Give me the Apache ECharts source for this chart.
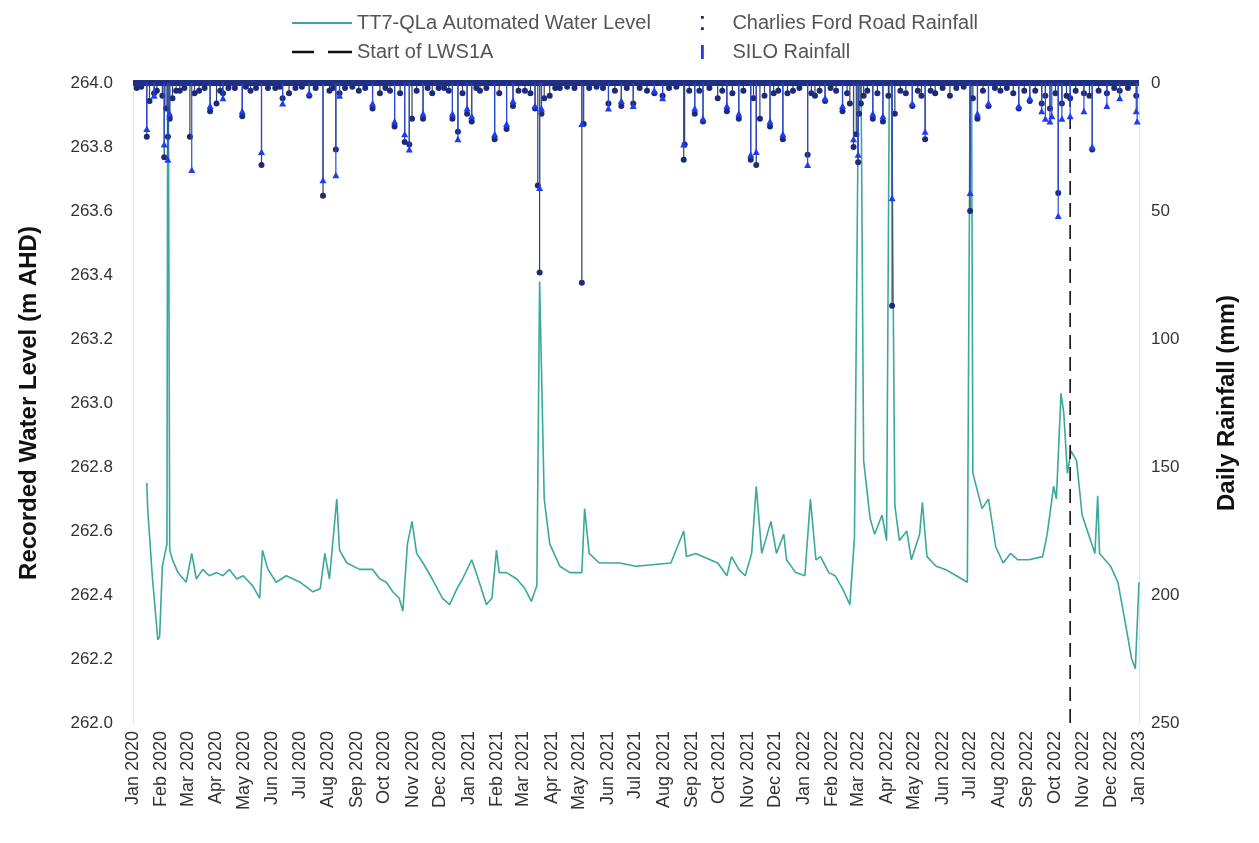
<!DOCTYPE html>
<html>
<head>
<meta charset="utf-8">
<script src="https://cdn.jsdelivr.net/npm/echarts@6/dist/echarts.min.js"></script>
<style>
html,body{margin:0;padding:0;background:#fff;}
#chart{width:1259px;height:843px;}
</style>
</head>
<body>
<div id="chart"></div>
<script>
// ---------- DATA ----------
const levelDates = [
 '2020-01-16','2020-01-17','2020-01-22','2020-01-28','2020-01-30','2020-02-02','2020-02-07','2020-02-08','2020-02-10','2020-02-13',
 '2020-02-19','2020-02-28','2020-03-05','2020-03-10','2020-03-17','2020-03-24','2020-04-01','2020-04-08','2020-04-15','2020-04-23',
 '2020-04-30','2020-05-10','2020-05-18','2020-05-21','2020-05-27','2020-06-05','2020-06-16','2020-07-01','2020-07-15','2020-07-23',
 '2020-07-28','2020-08-02','2020-08-10','2020-08-13','2020-08-21','2020-09-04','2020-09-18','2020-09-26','2020-10-03','2020-10-10',
 '2020-10-17','2020-10-21','2020-10-26','2020-10-31','2020-11-05','2020-11-12','2020-11-22','2020-12-03','2020-12-11','2020-12-19',
 '2020-12-25','2021-01-04','2021-01-10','2021-01-20','2021-01-26','2021-01-31','2021-02-03','2021-02-11','2021-02-22','2021-03-03',
 '2021-03-10','2021-03-16','2021-03-19','2021-03-24','2021-03-30','2021-04-10','2021-04-21','2021-05-04','2021-05-07','2021-05-12',
 '2021-05-23','2021-06-14','2021-07-02','2021-08-09','2021-08-23','2021-08-26','2021-09-05','2021-09-29','2021-10-09','2021-10-14',
 '2021-10-22','2021-10-29','2021-11-05','2021-11-10','2021-11-16','2021-11-26','2021-12-02','2021-12-10','2021-12-13','2021-12-23',
 '2022-01-02','2022-01-08','2022-01-14','2022-01-19','2022-01-28','2022-02-04','2022-02-12','2022-02-20','2022-02-25','2022-03-03',
 '2022-03-07','2022-03-14','2022-03-19','2022-03-27','2022-04-01','2022-04-05','2022-04-10','2022-04-15','2022-04-23','2022-04-28',
 '2022-05-07','2022-05-10','2022-05-15','2022-05-25','2022-06-04','2022-06-16','2022-06-28','2022-07-02','2022-07-04','2022-07-14',
 '2022-07-21','2022-07-29','2022-08-06','2022-08-14','2022-08-22','2022-09-03','2022-09-18','2022-09-23','2022-09-30','2022-10-03',
 '2022-10-08','2022-10-11','2022-10-15','2022-10-19','2022-10-25','2022-10-31','2022-11-07','2022-11-14','2022-11-17','2022-11-19',
 '2022-12-01','2022-12-09','2022-12-16','2022-12-24','2022-12-28','2023-01-01'
];
const levelValues = [
 262.75,262.67,262.46,262.26,262.27,262.49,262.56,264.5,262.54,262.51,
 262.47,262.44,262.53,262.45,262.48,262.46,262.47,262.46,262.48,262.45,
 262.46,262.43,262.39,262.54,262.48,262.44,262.46,262.44,262.41,262.42,
 262.53,262.45,262.70,262.54,262.50,262.48,262.48,262.45,262.44,262.41,
 262.39,262.35,262.56,262.63,262.53,262.50,262.45,262.39,262.37,262.42,
 262.45,262.51,262.46,262.37,262.39,262.54,262.47,262.47,262.45,262.42,
 262.38,262.43,263.38,262.70,262.56,262.49,262.47,262.47,262.67,262.53,
 262.50,262.50,262.49,262.50,262.60,262.52,262.53,262.50,262.46,262.52,
 262.48,262.46,262.53,262.74,262.53,262.63,262.53,262.59,262.51,262.47,
 262.46,262.70,262.51,262.52,262.47,262.46,262.42,262.37,262.58,264.5,
 262.82,262.64,262.59,262.65,262.57,264.5,262.68,262.57,262.60,262.51,
 262.59,262.69,262.52,262.49,262.48,262.46,262.44,264.5,262.78,262.67,
 262.70,262.55,262.50,262.53,262.51,262.51,262.52,262.59,262.74,262.70,
 263.03,262.97,262.78,262.85,262.82,262.65,262.59,262.53,262.71,262.53,
 262.49,262.44,262.33,262.20,262.17,262.44
];

// Charlies Ford Road daily rainfall [date, mm]
const charliesRain = [
 ['2020-01-05',2],['2020-01-10',1.5],['2020-01-16',21],['2020-01-19',7],['2020-01-24',4],['2020-01-27',3],
 ['2020-02-02',5],['2020-02-04',29],['2020-02-06',10],['2020-02-08',21],['2020-02-10',14],['2020-02-13',6],
 ['2020-02-17',3],['2020-02-21',3],['2020-02-26',2],['2020-03-03',21],['2020-03-08',4],['2020-03-13',3],
 ['2020-03-19',2],['2020-03-25',11],['2020-04-01',8],['2020-04-05',3],['2020-04-08',4],['2020-04-14',2],
 ['2020-04-21',2],['2020-04-29',13],['2020-05-03',1.5],['2020-05-08',3],['2020-05-14',2],['2020-05-20',32],
 ['2020-05-27',2],['2020-06-04',2],['2020-06-09',1.5],['2020-06-12',6],['2020-06-19',4],['2020-06-26',2],
 ['2020-07-03',1.5],['2020-07-11',5],['2020-07-18',2],['2020-07-26',44],['2020-08-02',3],['2020-08-06',2],
 ['2020-08-09',26],['2020-08-13',4],['2020-08-19',2],['2020-08-27',1.5],['2020-09-03',3],['2020-09-10',2],
 ['2020-09-18',10],['2020-09-26',4],['2020-10-02',2],['2020-10-07',3],['2020-10-12',17],['2020-10-18',4],
 ['2020-10-23',23],['2020-10-28',24],['2020-10-31',14],['2020-11-05',3],['2020-11-12',14],['2020-11-17',2],
 ['2020-11-22',4],['2020-11-29',2],['2020-12-05',2],['2020-12-10',3],['2020-12-14',14],['2020-12-20',19],
 ['2020-12-25',4],['2020-12-30',12],
 ['2021-01-04',15],['2021-01-09',2],['2021-01-13',3],['2021-01-20',2],['2021-01-29',22],['2021-02-03',4],
 ['2021-02-11',18],['2021-02-18',9],['2021-02-24',3],['2021-03-03',3],['2021-03-09',4],['2021-03-14',10],
 ['2021-03-17',40],['2021-03-19',74],['2021-03-21',12],['2021-03-24',6],['2021-03-30',5],['2021-04-05',2],
 ['2021-04-10',2],['2021-04-18',1.5],['2021-04-26',2],['2021-05-04',78],['2021-05-06',16],['2021-05-12',2],
 ['2021-05-20',1.5],['2021-05-27',2],['2021-06-02',8],['2021-06-09',3],['2021-06-16',9],['2021-06-22',2],
 ['2021-06-29',8],['2021-07-06',2],['2021-07-14',3],['2021-07-22',4],['2021-07-31',5],['2021-08-07',2],
 ['2021-08-15',1.5],['2021-08-23',30],['2021-08-24',24],['2021-08-29',3],['2021-09-04',12],['2021-09-09',3],
 ['2021-09-13',15],['2021-09-20',2],['2021-09-29',6],['2021-10-04',3],['2021-10-09',11],['2021-10-15',4],
 ['2021-10-22',14],['2021-10-27',3],['2021-11-04',30],['2021-11-07',6],['2021-11-10',32],['2021-11-14',14],
 ['2021-11-19',5],['2021-11-25',17],['2021-11-29',4],['2021-12-04',3],['2021-12-09',22],['2021-12-14',4],
 ['2021-12-20',3],['2021-12-27',2],
 ['2022-01-05',28],['2022-01-09',4],['2022-01-13',5],['2022-01-18',3],['2022-01-24',7],['2022-01-30',2],
 ['2022-02-05',3],['2022-02-12',11],['2022-02-17',4],['2022-02-20',8],['2022-02-24',25],['2022-02-27',20],
 ['2022-03-01',31],['2022-03-02',12],['2022-03-04',8],['2022-03-07',5],['2022-03-11',3],['2022-03-17',14],
 ['2022-03-22',4],['2022-03-28',15],['2022-04-03',5],['2022-04-07',87],['2022-04-10',12],['2022-04-16',3],
 ['2022-04-22',4],['2022-04-29',9],['2022-05-05',3],['2022-05-09',5],['2022-05-13',22],['2022-05-19',3],
 ['2022-05-24',4],['2022-06-01',2],['2022-06-09',5],['2022-06-16',2],['2022-06-24',1.5],['2022-07-01',50],
 ['2022-07-04',6],['2022-07-09',14],['2022-07-15',3],['2022-07-21',9],['2022-07-28',2],['2022-08-03',3],
 ['2022-08-10',2],['2022-08-17',4],['2022-08-23',10],['2022-08-29',3],['2022-09-04',7],['2022-09-10',3],
 ['2022-09-17',8],['2022-09-21',5],['2022-09-26',10],['2022-10-02',4],['2022-10-05',43],['2022-10-09',8],
 ['2022-10-14',5],['2022-10-18',6],['2022-10-24',3],['2022-11-02',4],['2022-11-08',5],['2022-11-11',26],
 ['2022-11-18',3],['2022-11-27',4],['2022-12-05',2],['2022-12-11',3],['2022-12-20',2],['2022-12-29',5]
];

// SILO daily rainfall [date, mm]
const siloRain = [
 ['2020-01-16',18],['2020-01-24',5],['2020-02-04',24],['2020-02-08',30],['2020-02-10',12],['2020-03-05',34],
 ['2020-03-25',9],['2020-04-08',6],['2020-04-29',11],['2020-05-20',27],['2020-06-12',8],['2020-07-11',4],
 ['2020-07-26',38],['2020-08-09',36],['2020-08-13',5],['2020-09-18',8],['2020-10-12',15],['2020-10-23',20],
 ['2020-10-28',26],['2020-11-12',12],['2020-12-14',12],['2020-12-20',22],['2020-12-30',10],
 ['2021-01-04',13],['2021-01-29',20],['2021-02-11',16],['2021-02-18',7],['2021-03-14',9],['2021-03-19',41],
 ['2021-03-21',10],['2021-05-04',16],['2021-06-02',10],['2021-06-16',7],['2021-06-29',9],['2021-07-22',3],
 ['2021-07-31',6],['2021-08-23',24],['2021-09-04',10],['2021-09-13',14],['2021-10-09',9],['2021-10-22',12],
 ['2021-11-04',28],['2021-11-10',27],['2021-11-25',15],['2021-12-09',20],
 ['2022-01-05',32],['2022-01-24',6],['2022-02-12',9],['2022-02-24',22],['2022-03-01',28],['2022-03-17',12],
 ['2022-03-28',13],['2022-04-07',45],['2022-04-29',8],['2022-05-13',19],['2022-07-01',43],['2022-07-09',12],
 ['2022-07-21',8],['2022-08-23',9],['2022-09-04',6],['2022-09-17',11],['2022-09-21',14],['2022-09-26',15],
 ['2022-09-28',13],['2022-10-05',52],['2022-10-09',14],['2022-10-18',13],['2022-11-02',11],['2022-11-11',25],
 ['2022-11-27',9],['2022-12-11',6],['2022-12-29',11],['2022-12-30',15]
];

const lwsStartDate = '2022-10-18';
const levelTicks = {min: 262, max: 264, step: 0.2};
const rainTicks = {min: 0, max: 250, step: 50};
const monthNames = ['Jan','Feb','Mar','Apr','May','Jun','Jul','Aug','Sep','Oct','Nov','Dec'];

// ---------- CHART ----------
const chart = echarts.init(document.getElementById('chart'), null, {renderer: 'canvas'});
const FONT = 'Liberation Sans, Arial, sans-serif';

function stemRenderer(stemColor, markerColor, shape) {
  return function (params, api) {
    const x = api.value(0);
    const v = api.value(1);
    const p0 = api.coord([x, 0]);
    const p1 = api.coord([x, v]);
    const children = [{
      type: 'line',
      shape: {x1: p0[0], y1: p0[1], x2: p1[0], y2: p1[1]},
      style: {stroke: stemColor, lineWidth: 1.2}
    }];
    if (shape === 'circle') {
      children.push({type: 'circle', shape: {cx: p1[0], cy: p1[1], r: 3}, style: {fill: markerColor}});
    } else {
      children.push({type: 'polygon', shape: {points: [[p1[0], p1[1] - 3.5], [p1[0] - 3.5, p1[1] + 3], [p1[0] + 3.5, p1[1] + 3]]}, style: {fill: markerColor}});
    }
    return {type: 'group', children: children};
  };
}

const option = {
  backgroundColor: '#ffffff',
  animation: false,
  legend: [
    {
      left: 287, top: 8, orient: 'vertical', itemGap: 9, itemWidth: 60, itemHeight: 14,
      data: [
        {name: 'TT7-QLa Automated Water Level', icon: 'path://M0,0h60v2h-60z', symbolKeepAspect: true},
        {name: 'Start of LWS1A', icon: 'path://M0,0h22v2.5h-22z M36,0h24v2.5h-24z', symbolKeepAspect: true}
      ],
      textStyle: {fontSize: 20, color: '#555', fontFamily: FONT}
    },
    {
      left: 696, top: 8, orient: 'vertical', itemGap: 9, itemWidth: 6, itemHeight: 14,
      data: [
        {name: 'Charlies Ford Road Rainfall', icon: 'path://M0,0h2v2h-2z M0,8h2v2h-2z'},
        {name: 'SILO Rainfall', icon: 'path://M0,0h2v10h-2z'}
      ],
      textStyle: {fontSize: 20, color: '#555', fontFamily: FONT, padding: [0, 0, 0, 22]}
    }
  ],
  grid: {left: 133, right: 120, top: 83, bottom: 120, containLabel: false},
  xAxis: {
    type: 'time',
    min: '2020-01-01',
    max: '2023-01-01',
    minInterval: 28 * 86400000,
    maxInterval: 31 * 86400000,
    splitNumber: 36,
    axisLine: {show: true, lineStyle: {color: '#e2e2e2'}},
    axisTick: {show: false},
    splitLine: {show: false},
    axisLabel: {
      rotate: 90, fontSize: 18, color: '#333', fontFamily: FONT, margin: 8, hideOverlap: false,
      showMinLabel: true, showMaxLabel: true,
      formatter: function (val) {
        const d = new Date(val);
        return monthNames[d.getMonth()] + ' ' + d.getFullYear();
      }
    }
  },
  yAxis: [
    {
      type: 'value', min: levelTicks.min, max: levelTicks.max, interval: levelTicks.step,
      name: 'Recorded Water Level (m AHD)', nameLocation: 'middle', nameGap: 92,
      nameTextStyle: {fontSize: 24, fontWeight: 'bold', color: '#111', fontFamily: FONT},
      axisLine: {show: true, lineStyle: {color: '#e2e2e2'}},
      axisTick: {show: false}, splitLine: {show: false},
      axisLabel: {fontSize: 17, color: '#333', fontFamily: FONT, margin: 20, formatter: v => v.toFixed(1)}
    },
    {
      type: 'value', min: rainTicks.min, max: rainTicks.max, interval: rainTicks.step, inverse: true,
      name: 'Daily Rainfall (mm)', nameLocation: 'middle', nameGap: 76,
      nameTextStyle: {fontSize: 24, fontWeight: 'bold', color: '#111', fontFamily: FONT},
      axisLine: {show: true, lineStyle: {color: '#e2e2e2'}},
      axisTick: {show: false}, splitLine: {show: false},
      axisLabel: {fontSize: 17, color: '#333', fontFamily: FONT, margin: 12}
    }
  ],
  series: [
    {
      name: 'TT7-QLa Automated Water Level', type: 'line', yAxisIndex: 0,
      data: levelDates.map((d, i) => [d, levelValues[i]]),
      symbol: 'none', clip: true,
      lineStyle: {color: '#3aa99c', width: 1.6},
      itemStyle: {color: '#3aa99c'}, z: 2
    },
    {
      name: 'Start of LWS1A', type: 'line', yAxisIndex: 0,
      data: [[lwsStartDate, levelTicks.min], [lwsStartDate, levelTicks.max]],
      symbol: 'none',
      lineStyle: {color: '#111', width: 1.6, type: [14, 8]},
      itemStyle: {color: '#111'}, z: 3
    },
    {
      name: 'Charlies Ford Road Rainfall', type: 'custom', yAxisIndex: 1,
      data: charliesRain,
      renderItem: stemRenderer('#35405e', '#1c2a78', 'circle'),
      itemStyle: {color: '#1c2a78'}, z: 4,
      markLine: {
        silent: true, symbol: 'none', label: {show: false},
        lineStyle: {color: '#1f2f86', width: 6, type: 'solid'},
        data: [{yAxis: rainTicks.min}]
      }
    },
    {
      name: 'SILO Rainfall', type: 'custom', yAxisIndex: 1,
      data: siloRain,
      renderItem: stemRenderer('#2a48d8', '#1f3cf5', 'triangle'),
      itemStyle: {color: '#1f3cf5'}, z: 5
    }
  ]
};
chart.setOption(option);
</script>
</body>
</html>
